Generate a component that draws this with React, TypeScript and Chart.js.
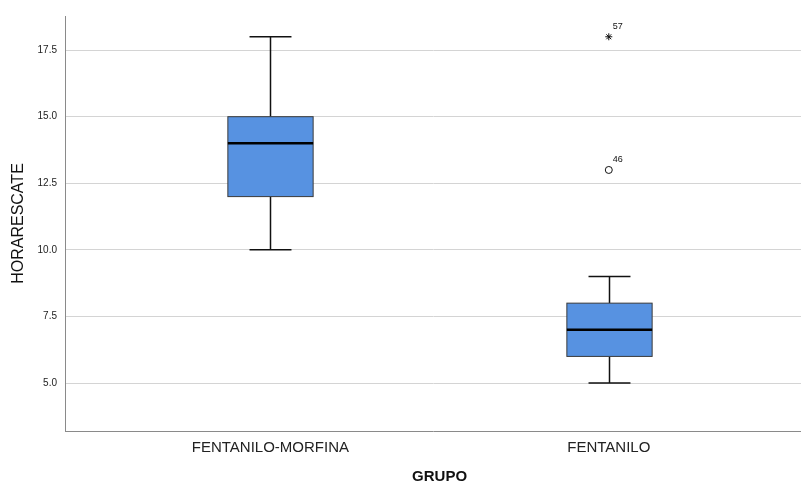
import { useEffect, useRef } from 'react';
import { Chart, registerables } from 'chart.js';

Chart.register(...registerables);

// Groups and five-number summaries of HORARESCATE
const categories = ['FENTANILO-MORFINA', 'FENTANILO'];
const whiskerLow = [10, 5];
const q1 = [12, 6];
const median = [14, 7];
const q3 = [15, 8];
const whiskerHigh = [18, 9];

// Outliers (circle) and extreme values (star) with their case numbers
const outlierGroup = [1];
const outlierValue = [13];
const outlierCase = ['46'];
const extremeGroup = [1];
const extremeValue = [18];
const extremeCase = ['57'];

const yTicks = [5, 7.5, 10, 12.5, 15, 17.5];
const xTitle = 'GRUPO';

const FONT = '"Liberation Sans", Arial, sans-serif';
const BOX_HALF = 0.126;
const CAP_HALF = 0.062;

const boxPlugin = {
  id: 'boxes',
  beforeDatasetsDraw(chart: any) {
    const { ctx } = chart;
    const x = chart.scales.x;
    const y = chart.scales.y;
    categories.forEach((_, i) => {
      const cx = Math.round(x.getPixelForValue(i)) + 0.5;
      const hw = x.getPixelForValue(i + BOX_HALF) - x.getPixelForValue(i);
      const cw = x.getPixelForValue(i + CAP_HALF) - x.getPixelForValue(i);
      const yLo = y.getPixelForValue(whiskerLow[i]);
      const yQ1 = y.getPixelForValue(q1[i]);
      const yMed = y.getPixelForValue(median[i]);
      const yQ3 = y.getPixelForValue(q3[i]);
      const yHi = y.getPixelForValue(whiskerHigh[i]);
      ctx.save();
      ctx.strokeStyle = '#111';
      ctx.lineWidth = 1.5;
      ctx.beginPath();
      ctx.moveTo(cx, yHi);
      ctx.lineTo(cx, yQ3);
      ctx.moveTo(cx, yQ1);
      ctx.lineTo(cx, yLo);
      ctx.moveTo(cx - cw, yHi);
      ctx.lineTo(cx + cw, yHi);
      ctx.moveTo(cx - cw, yLo);
      ctx.lineTo(cx + cw, yLo);
      ctx.stroke();
      ctx.fillStyle = '#5792e1';
      ctx.fillRect(cx - hw, yQ3, hw * 2, yQ1 - yQ3);
      ctx.strokeStyle = '#3a3a3a';
      ctx.lineWidth = 1;
      ctx.strokeRect(cx - hw, yQ3, hw * 2, yQ1 - yQ3);
      ctx.strokeStyle = '#000';
      ctx.lineWidth = 2.5;
      ctx.beginPath();
      ctx.moveTo(cx - hw, yMed);
      ctx.lineTo(cx + hw, yMed);
      ctx.stroke();
      ctx.restore();
    });
  },
  afterDatasetsDraw(chart: any) {
    const { ctx } = chart;
    ctx.save();
    ctx.fillStyle = '#111';
    ctx.font = `9px ${FONT}`;
    ctx.textAlign = 'left';
    ctx.textBaseline = 'middle';
    const caseSets = [outlierCase, extremeCase];
    caseSets.forEach((cases, d) => {
      const meta = chart.getDatasetMeta(d);
      meta.data.forEach((pt: any, j: number) => {
        ctx.fillText(cases[j], pt.x + 4, pt.y - 10);
      });
    });
    ctx.restore();
  },
  afterDraw(chart: any) {
    // axis title centred between the two groups
    const { ctx } = chart;
    const x = chart.scales.x;
    ctx.save();
    ctx.fillStyle = '#111';
    ctx.font = `bold 15px ${FONT}`;
    ctx.textAlign = 'center';
    ctx.textBaseline = 'middle';
    ctx.fillText(xTitle, x.getPixelForValue((categories.length - 1) / 2), x.bottom - 5);
    ctx.restore();
  },
};

export default function App() {
  const ref = useRef<HTMLCanvasElement>(null);

  useEffect(() => {
    if (!ref.current) return;
    const chart = new Chart(ref.current, {
      type: 'scatter',
      data: {
        datasets: [
          {
            data: outlierValue.map((v, j) => ({ x: outlierGroup[j], y: v })),
            pointStyle: 'circle',
            radius: 3.5,
            borderColor: '#111',
            backgroundColor: '#fff',
            borderWidth: 1,
          },
          {
            data: extremeValue.map((v, j) => ({ x: extremeGroup[j], y: v })),
            pointStyle: 'star',
            radius: 3.5,
            borderColor: '#111',
            backgroundColor: '#111',
            borderWidth: 1,
          },
        ],
      },
      options: {
        responsive: false,
        animation: false,
        events: [],
        layout: { autoPadding: false, padding: { top: 16, right: 0, left: 0, bottom: 0 } },
        plugins: {
          legend: { display: false },
          tooltip: { enabled: false },
        },
        scales: {
          x: {
            type: 'linear',
            min: -0.607,
            max: 1.568,
            afterFit(scale: any) {
              scale.height = 51;
              scale.paddingLeft = 0;
              scale.paddingRight = 0;
            },
            afterBuildTicks(scale: any) {
              scale.ticks = categories.map((_, i) => ({ value: i }));
            },
            grid: { display: false, drawTicks: false },
            border: { display: true, color: '#8a8a8a', width: 1 },
            ticks: {
              padding: 8,
              color: '#222',
              font: { family: FONT, size: 15 },
              maxRotation: 0,
              callback: (v: any) => categories[v as number] ?? '',
            },
          },
          y: {
            type: 'linear',
            min: 3.2,
            max: 18.78,
            afterFit(scale: any) {
              scale.width = 65;
            },
            afterBuildTicks(scale: any) {
              scale.ticks = yTicks.map((v) => ({ value: v }));
            },
            grid: { color: '#d4d4d4', lineWidth: 1, drawTicks: false },
            border: { display: true, color: '#8a8a8a', width: 1 },
            ticks: {
              padding: 8,
              color: '#222',
              font: { family: FONT, size: 10 },
              callback: (v: any) => Number(v).toFixed(1),
            },
            title: {
              display: true,
              text: 'HORARESCATE',
              color: '#111',
              font: { family: FONT, size: 16, weight: 'normal' },
              padding: { top: 9, bottom: 0 },
            },
          },
        },
      },
      plugins: [boxPlugin],
    });
    return () => chart.destroy();
  }, []);

  return (
    <div style={{ position: 'fixed', left: 0, top: 0, width: 801, height: 482, background: '#fff' }}>
      <canvas ref={ref} width={801} height={482} />
    </div>
  );
}
